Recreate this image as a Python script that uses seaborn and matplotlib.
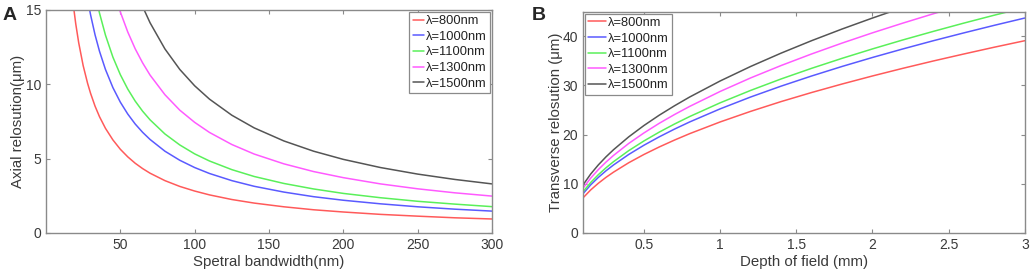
import matplotlib
matplotlib.use("Agg")
import matplotlib.pyplot as plt
import pandas as pd
import seaborn as sns

# ---------------- data ----------------
labels = ['λ=800nm', 'λ=1000nm', 'λ=1100nm', 'λ=1300nm', 'λ=1500nm']
colors = ['#ff5a5a', '#5a5aff', '#5af05a', '#ff5aff', '#555555']

# Panel A: axial resolution (um) vs spectral bandwidth (nm)
bandwidth = [15, 18, 20, 22, 25, 28, 30, 33, 36, 40, 45, 50, 55, 60, 65, 70,
             80, 90, 100, 110, 125, 140, 160, 180, 200, 225, 250, 275, 300]
axial_800 = [18.77, 15.64, 14.08, 12.80, 11.26, 10.06, 9.39, 8.53, 7.82, 7.04,
             6.26, 5.63, 5.12, 4.69, 4.33, 4.02, 3.52, 3.13, 2.82, 2.56, 2.25,
             2.01, 1.76, 1.56, 1.41, 1.25, 1.13, 1.02, 0.94]
axial_1000 = [29.33, 24.44, 22.0, 20.0, 17.6, 15.71, 14.67, 13.33, 12.22, 11.0,
              9.78, 8.8, 8.0, 7.33, 6.77, 6.29, 5.5, 4.89, 4.4, 4.0, 3.52,
              3.14, 2.75, 2.44, 2.2, 1.96, 1.76, 1.6, 1.47]
axial_1100 = [35.49, 29.58, 26.62, 24.2, 21.3, 19.01, 17.75, 16.13, 14.79, 13.31,
              11.83, 10.65, 9.68, 8.87, 8.19, 7.61, 6.66, 5.92, 5.32, 4.84, 4.26,
              3.80, 3.33, 2.96, 2.66, 2.37, 2.13, 1.94, 1.77]
axial_1300 = [49.57, 41.31, 37.18, 33.8, 29.74, 26.56, 24.79, 22.53, 20.66, 18.59,
              16.52, 14.87, 13.52, 12.39, 11.44, 10.62, 9.30, 8.26, 7.44, 6.76,
              5.95, 5.31, 4.65, 4.13, 3.72, 3.30, 2.97, 2.70, 2.48]
axial_1500 = [66.0, 55.0, 49.5, 45.0, 39.6, 35.36, 33.0, 30.0, 27.5, 24.75,
              22.0, 19.8, 18.0, 16.5, 15.23, 14.14, 12.38, 11.0, 9.9, 9.0, 7.92,
              7.07, 6.19, 5.5, 4.95, 4.4, 3.96, 3.6, 3.3]

# Panel B: transverse resolution (um) vs depth of field (mm)
depth = [0.1, 0.15, 0.2, 0.25, 0.3, 0.4, 0.5, 0.6, 0.7, 0.8, 1.0, 1.2, 1.4,
         1.6, 1.8, 2.0, 2.2, 2.4, 2.6, 2.8, 3.0]
trans_800 = [7.14, 8.74, 10.09, 11.29, 12.36, 14.28, 15.96, 17.48, 18.88, 20.19,
             22.57, 24.72, 26.71, 28.55, 30.28, 31.92, 33.48, 34.97, 36.39, 37.77, 39.09]
trans_1000 = [7.98, 9.77, 11.28, 12.62, 13.82, 15.96, 17.84, 19.54, 21.11, 22.57,
              25.23, 27.64, 29.85, 31.91, 33.85, 35.68, 37.42, 39.09, 40.68, 42.22, 43.70]
trans_1100 = [8.37, 10.25, 11.83, 13.23, 14.49, 16.74, 18.71, 20.50, 22.14, 23.67,
              26.46, 28.98, 31.31, 33.47, 35.50, 37.42, 39.25, 40.99, 42.67, 44.28, 45.83]
trans_1300 = [9.10, 11.14, 12.87, 14.39, 15.76, 18.20, 20.34, 22.29, 24.07, 25.73,
              28.77, 31.52, 34.04, 36.39, 38.60, 40.69, 42.67, 44.57, 46.39, 48.14, 49.83]
trans_1500 = [9.77, 11.97, 13.82, 15.45, 16.92, 19.54, 21.85, 23.94, 25.85, 27.64,
              30.90, 33.85, 36.56, 39.09, 41.46, 43.70, 45.83, 47.87, 49.83, 51.71, 53.52]

axial = [axial_800, axial_1000, axial_1100, axial_1300, axial_1500]
trans = [trans_800, trans_1000, trans_1100, trans_1300, trans_1500]

# long-form tables for seaborn
dfA = pd.concat([pd.DataFrame({'x': bandwidth, 'y': v, 'lam': lab})
                 for v, lab in zip(axial, labels)], ignore_index=True)
dfB = pd.concat([pd.DataFrame({'x': depth, 'y': v, 'lam': lab})
                 for v, lab in zip(trans, labels)], ignore_index=True)

# ---------------- style ----------------
sns.set_style('white')
plt.rcParams['font.family'] = ['Liberation Sans', 'DejaVu Sans']
plt.rcParams['xtick.direction'] = 'in'
plt.rcParams['ytick.direction'] = 'in'

spine_col = '#8a8a8a'
text_col = '#3a3a3a'

fig = plt.figure(figsize=(10.31, 2.77), dpi=100)
axA = fig.add_axes([0.0446, 0.159, 0.4326, 0.805])
axB = fig.add_axes([0.5655, 0.159, 0.4285, 0.799])


def style_axes(ax):
    for s in ax.spines.values():
        s.set_color(spine_col)
        s.set_linewidth(1.0)
    ax.tick_params(axis='both', which='both', direction='in', length=3,
                   color=spine_col, labelcolor=text_col, labelsize=10,
                   top=True, right=True, bottom=True, left=True)


def style_legend(leg):
    leg.get_frame().set_edgecolor(spine_col)
    leg.get_frame().set_linewidth(0.9)
    for t in leg.get_texts():
        t.set_color('#222222')


leg_kw = dict(fontsize=9.3, handletextpad=0.15, borderpad=0.25,
              labelspacing=0.28, borderaxespad=0.15, frameon=True,
              fancybox=False, framealpha=1)

# Panel A
sns.lineplot(data=dfA, x='x', y='y', hue='lam', palette=colors, sort=False,
             linewidth=1.1, ax=axA)
axA.set_xlim(0, 300)
axA.set_ylim(0, 15)
axA.set_xticks([50, 100, 150, 200, 250, 300])
axA.set_yticks([0, 5, 10, 15])
axA.set_xlabel('Spetral bandwidth(nm)', fontsize=10.8, color=text_col, labelpad=2)
axA.set_ylabel('Axial relosution(μm)', fontsize=10.8, color=text_col, labelpad=0.5)
style_axes(axA)
legA = axA.legend(loc='upper right', handlelength=0.9, **leg_kw)
style_legend(legA)

# Panel B
sns.lineplot(data=dfB, x='x', y='y', hue='lam', palette=colors, sort=False,
             linewidth=1.1, ax=axB)
axB.set_xlim(0.1, 3)
axB.set_ylim(0, 45)
axB.set_xticks([0.5, 1, 1.5, 2, 2.5, 3])
axB.set_xticklabels(['0.5', '1', '1.5', '2', '2.5', '3'])
axB.set_yticks([0, 10, 20, 30, 40])
axB.set_xlabel('Depth of field (mm)', fontsize=10.8, color=text_col, labelpad=2)
axB.set_ylabel('Transverse relosution (μm)', fontsize=10.8, color=text_col, labelpad=0)
style_axes(axB)
legB = axB.legend(loc='upper left', handlelength=1.4, **leg_kw)
style_legend(legB)

# panel letters
fig.text(0.002, 0.975, 'A', fontsize=14, fontweight='bold', va='top', ha='left')
fig.text(0.516, 0.975, 'B', fontsize=14, fontweight='bold', va='top', ha='left')

fig.savefig('out.png', dpi=100)
